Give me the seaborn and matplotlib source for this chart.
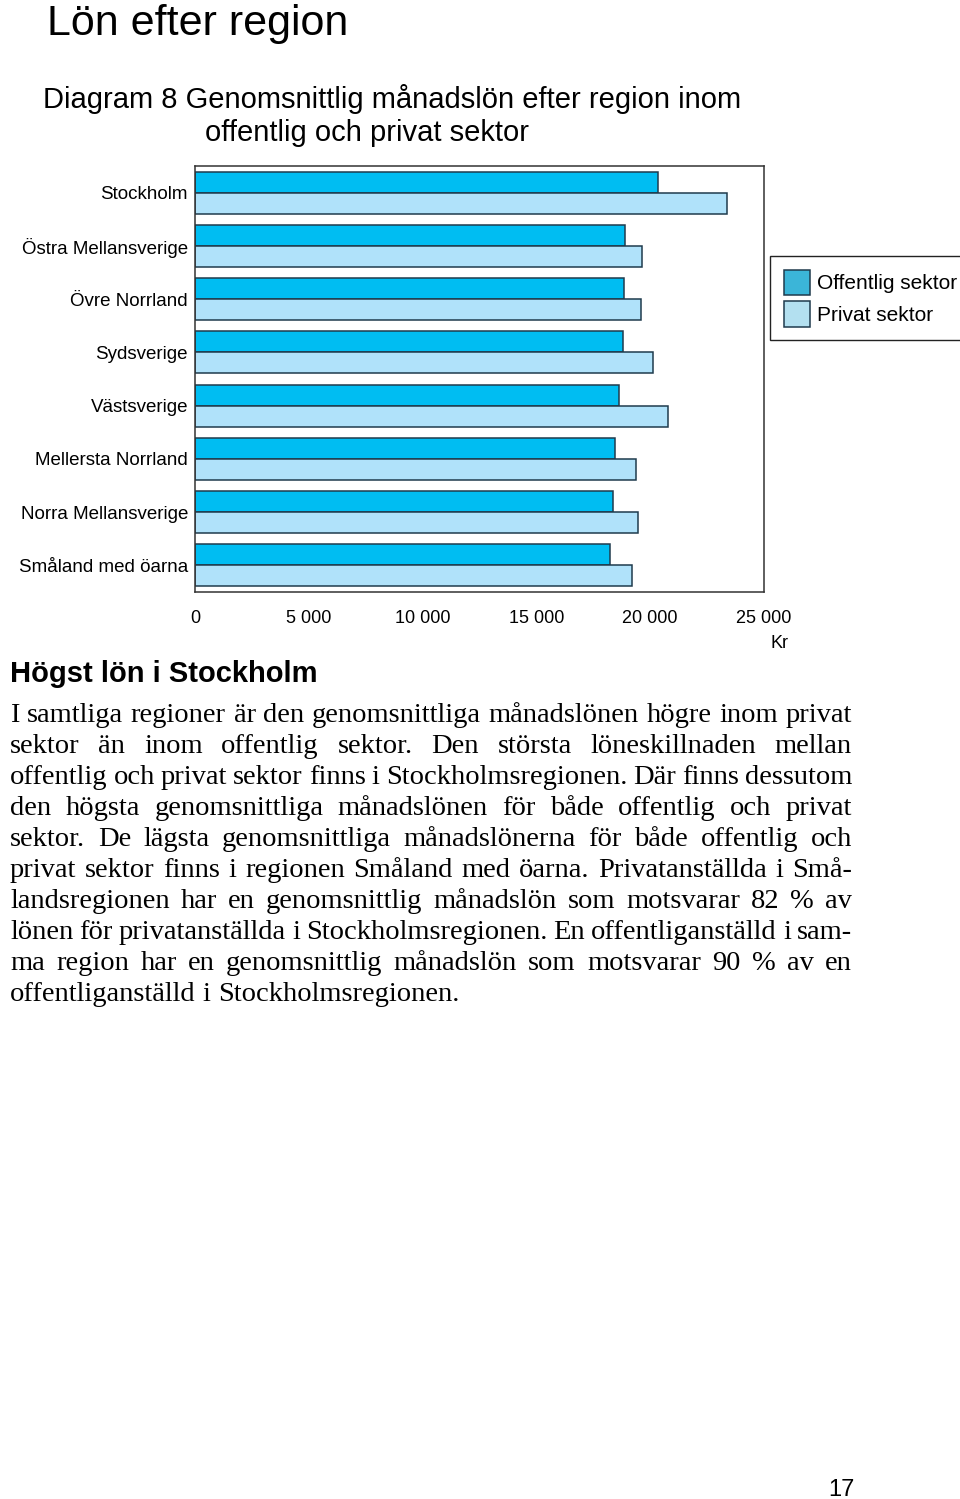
import pandas as pd
import numpy as np
from matplotlib import pyplot as plt
import seaborn as sns

sns.set_style("white")
plt.rcParams['font.family'] = ['Liberation Sans', 'DejaVu Sans']
plt.rcParams['text.color'] = 'black'
plt.rcParams['xtick.color'] = 'black'
plt.rcParams['ytick.color'] = 'black'
plt.rcParams['axes.labelcolor'] = 'black'

W, H = 960, 1499

# data (kr per month)
regions = ["Stockholm", "Östra Mellansverige", "Övre Norrland", "Sydsverige",
           "Västsverige", "Mellersta Norrland", "Norra Mellansverige",
           "Småland med öarna"]
offentlig = [20350, 18900, 18840, 18820, 18640, 18470, 18350, 18250]
privat = [23370, 19650, 19600, 20120, 20800, 19380, 19450, 19210]
sectors = ["Offentlig sektor", "Privat sektor"]
xticks = [0, 5000, 10000, 15000, 20000, 25000]
xticklabels = ["0", "5 000", "10 000", "15 000", "20 000", "25 000"]

df = pd.DataFrame({
    "region": regions * 2,
    "lon": offentlig + privat,
    "sektor": [sectors[0]] * len(regions) + [sectors[1]] * len(regions),
})

bar_colors = {"Offentlig sektor": "#00BDF2", "Privat sektor": "#B0E2FA"}
legend_colors = ["#3BB5D8", "#B3E0F0"]
edge = "#1F3B4D"

fig = plt.figure(figsize=(W / 100, H / 100), dpi=100)
ax = fig.add_axes([195 / W, 1 - 592 / H, 569 / W, 426 / H])

sns.barplot(data=df, y="region", x="lon", hue="sektor", orient="h",
            order=regions, hue_order=sectors, palette=bar_colors, saturation=1,
            width=0.79, edgecolor=edge, linewidth=1.1, ax=ax)

ax.set_xlim(0, 25000)
ax.set_ylim(len(regions) - 0.5, -0.5)
ax.set_xticks(xticks)
ax.set_xticklabels(xticklabels, fontsize=13)
ax.set_xlabel("")
ax.set_ylabel("")
ax.tick_params(axis="x", direction="out", length=6, width=1.1, color="#333333", pad=7)
ax.tick_params(axis="y", length=0, pad=5, labelsize=13.5)
for s in ax.spines.values():
    s.set_visible(True)
    s.set_color("#333333")
    s.set_linewidth(1.1)

leg = ax.legend(loc="upper left", bbox_to_anchor=((770 - 195) / 569, (592 - 256) / 426),
                borderaxespad=0, fontsize=15, frameon=True, fancybox=False,
                framealpha=1, edgecolor="#222222", handlelength=1.25,
                handleheight=1.5, handletextpad=0.35, labelspacing=0.3,
                borderpad=0.65)
leg.get_frame().set_linewidth(1.0)
for patch, c in zip(leg.get_patches(), legend_colors):
    patch.set_facecolor(c)
    patch.set_edgecolor(edge)

fig.text(788 / W, 1 - 643 / H, "Kr", ha="right", va="center", fontsize=13)

# headings
fig.text(47 / W, 1 - 35 / H, "Lön efter region", ha="left", va="baseline", fontsize=31)
fig.text(43 / W, 1 - 108 / H, "Diagram 8 Genomsnittlig månadslön efter region inom",
         ha="left", va="baseline", fontsize=21)
fig.text(205 / W, 1 - 141 / H, "offentlig och privat sektor",
         ha="left", va="baseline", fontsize=21)
fig.text(10 / W, 1 - 682 / H, "Högst lön i Stockholm", ha="left", va="baseline",
         fontsize=21, fontweight="bold")
fig.text(855 / W, 1 - 1496 / H, "17", ha="right", va="baseline", fontsize=17)

# body text, justified line by line
body = [
    "I samtliga regioner är den genomsnittliga månadslönen högre inom privat",
    "sektor än inom offentlig sektor. Den största löneskillnaden mellan",
    "offentlig och privat sektor finns i Stockholmsregionen. Där finns dessutom",
    "den högsta genomsnittliga månadslönen för både offentlig och privat",
    "sektor. De lägsta genomsnittliga månadslönerna för både offentlig och",
    "privat sektor finns i regionen Småland med öarna. Privatanställda i Små-",
    "landsregionen har en genomsnittlig månadslön som motsvarar 82 % av",
    "lönen för privatanställda i Stockholmsregionen. En offentliganställd i sam-",
    "ma region har en genomsnittlig månadslön som motsvarar 90 % av en",
    "offentliganställd i Stockholmsregionen.",
]
x0, x1 = 10, 852
serif = ["Liberation Serif", "DejaVu Serif"]
renderer = fig.canvas.get_renderer()

# pick the largest size at which every line fits with a minimal word gap
size = 21.0
while True:
    ok = True
    for line in body:
        words = line.split(" ")
        tmp = [fig.text(0, 0, w, fontsize=size, family=serif) for w in words]
        tot = sum(t.get_window_extent(renderer=renderer).width for t in tmp)
        for t in tmp:
            t.remove()
        if tot + (len(words) - 1) * 0.18 * size * 100 / 72 > x1 - x0:
            ok = False
            break
    if ok or size <= 14:
        break
    size -= 0.25

for i, line in enumerate(body):
    yb = 1 - (722 + 31 * i) / H
    words = line.split(" ")
    txts = [fig.text(0, yb, w, ha="left", va="baseline", fontsize=size,
                     family=serif) for w in words]
    widths = [t.get_window_extent(renderer=renderer).width for t in txts]
    if i == len(body) - 1:
        gap = 0.25 * size * 100 / 72
    else:
        gap = (x1 - x0 - sum(widths)) / (len(words) - 1)
    x = x0
    for t, w in zip(txts, widths):
        t.set_x(x / W)
        x += w + gap

fig.savefig("out.png", dpi=100)
